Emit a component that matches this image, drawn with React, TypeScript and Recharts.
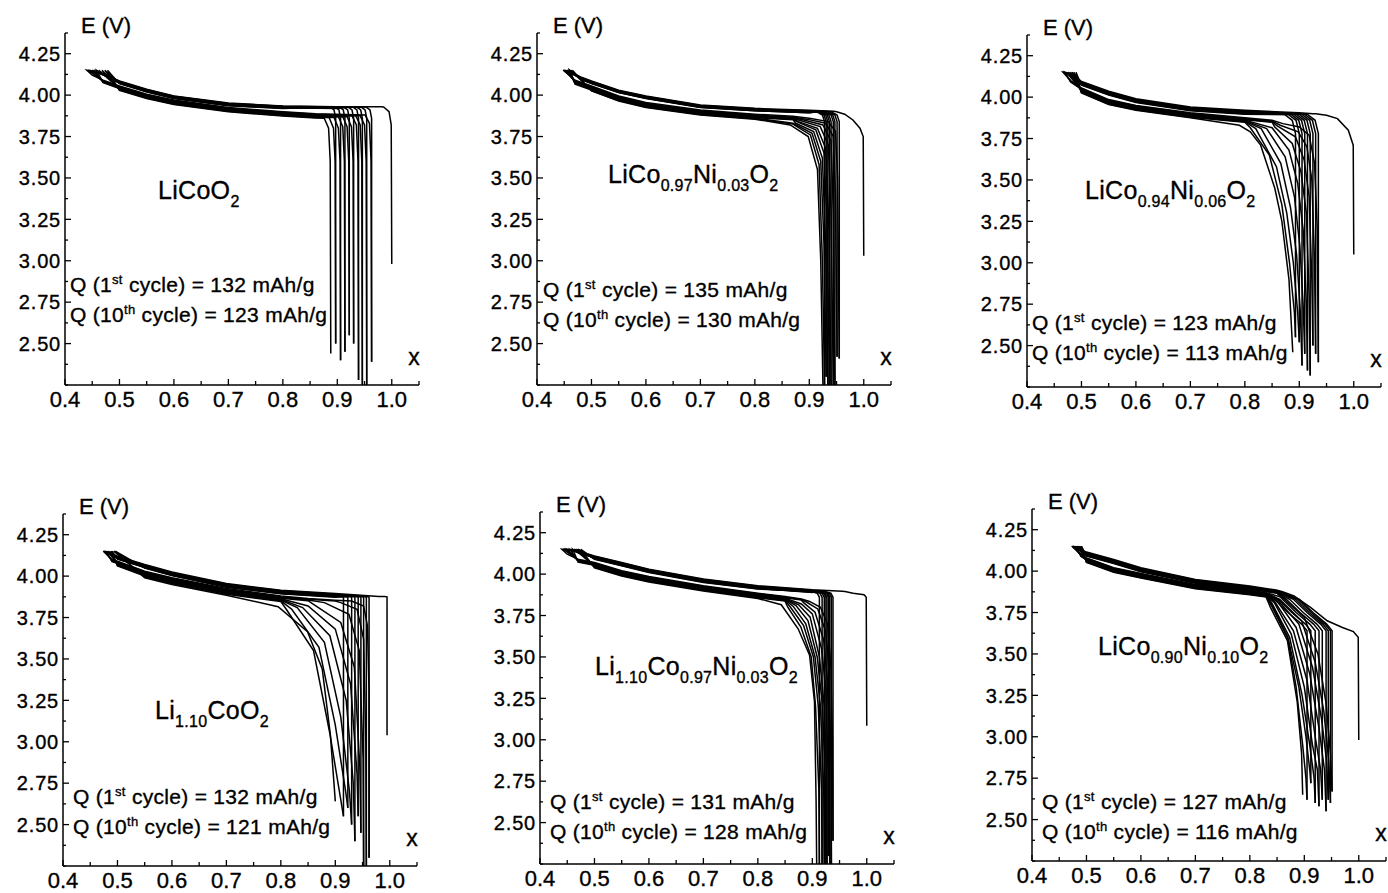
import React from 'react';
import { LineChart, Line, XAxis, YAxis } from 'recharts';

type Pt = [number, number];

// voltage where every charge stops (left end of the loops)
const TOP_E = 4.15;

const xTicks = [0.4, 0.45, 0.5, 0.55, 0.6, 0.65, 0.7, 0.75, 0.8, 0.85, 0.9, 0.95, 1.0, 1.05];
const xLabelled = [0.4, 0.5, 0.6, 0.7, 0.8, 0.9, 1.0];
const eTicks = [2.25, 2.375, 2.5, 2.625, 2.75, 2.875, 3.0, 3.125, 3.25, 3.375, 3.5, 3.625, 3.75, 3.875, 4.0, 4.125, 4.25, 4.375];
const eLabelled = [2.5, 2.75, 3.0, 3.25, 3.5, 3.75, 4.0, 4.25];

const formulas: [string, string][][] = [
  [['LiCoO', '2']],
  [['LiCo', '0.97'], ['Ni', '0.03'], ['O', '2']],
  [['LiCo', '0.94'], ['Ni', '0.06'], ['O', '2']],
  [['Li', '1.10'], ['CoO', '2']],
  [['Li', '1.10'], ['Co', '0.97'], ['Ni', '0.03'], ['O', '2']],
  [['LiCo', '0.90'], ['Ni', '0.10'], ['O', '2']],
];
const qFirst = [132, 135, 123, 132, 131, 127];
const qTenth = [123, 130, 113, 121, 128, 116];

// ---------- panel 1 : LiCoO2 ----------
const p1ChargeBand: Pt[] = [[0.98, 3.93], [0.9, 3.93], [0.8, 3.935], [0.7, 3.952], [0.6, 3.995], [0.55, 4.035], [0.5, 4.085], [0.48, 4.115], [0.465, 4.135]];
const p1ChargeShift = [0, -0.002, -0.004, -0.006, -0.007, -0.009, -0.011, -0.012, -0.014, -0.016];
const p1FirstHead: Pt[] = [[1.0, 2.98], [0.999, 3.82], [0.995, 3.9], [0.985, 3.928]];
const p1HeadRise: Pt[] = [[0, 3.86], [-0.003, 3.91], [-0.01, 3.928]];
const p1TopX = [0.44, 0.442, 0.445, 0.45, 0.453, 0.458, 0.462, 0.468, 0.473, 0.478];
const p1DischargeBand: Pt[] = [[0.45, 4.12], [0.47, 4.09], [0.5, 4.055], [0.55, 4.005], [0.6, 3.97], [0.7, 3.925], [0.8, 3.9], [0.86, 3.888]];
const p1DischargeShift = [0, -0.004, -0.007, -0.01, -0.012, -0.015, -0.017, -0.02, -0.023, -0.026];
const p1Tails: Pt[][] = [
  [[0.951, 3.88], [0.959, 3.83], [0.962, 3.6], [0.963, 2.39]],
  [[0.942, 3.875], [0.95, 3.82], [0.953, 3.6], [0.954, 2.25]],
  [[0.934, 3.875], [0.942, 3.82], [0.945, 3.6], [0.946, 2.25]],
  [[0.927, 3.875], [0.935, 3.82], [0.938, 3.6], [0.939, 2.28]],
  [[0.918, 3.87], [0.926, 3.81], [0.929, 3.6], [0.93, 2.5]],
  [[0.91, 3.87], [0.918, 3.81], [0.921, 3.6], [0.922, 2.55]],
  [[0.902, 3.87], [0.91, 3.81], [0.913, 3.6], [0.914, 2.45]],
  [[0.894, 3.865], [0.902, 3.8], [0.905, 3.6], [0.906, 2.4]],
  [[0.885, 3.865], [0.893, 3.8], [0.896, 3.6], [0.897, 2.5]],
  [[0.876, 3.86], [0.884, 3.8], [0.887, 3.6], [0.888, 2.44]],
];

// ---------- panel 2 : LiCo0.97Ni0.03O2 ----------
const p2ChargeBand: Pt[] = [[0.945, 3.902], [0.9, 3.908], [0.8, 3.92], [0.7, 3.94], [0.6, 3.995], [0.55, 4.03], [0.5, 4.085], [0.48, 4.11], [0.465, 4.135]];
const p2ChargeShift = [0, -0.003, -0.005, -0.006, -0.008, -0.01, -0.011, -0.012, -0.014, -0.015];
const p2FirstHead: Pt[] = [[1.0, 3.03], [0.999, 3.75], [0.993, 3.8], [0.98, 3.85], [0.965, 3.885], [0.95, 3.9]];
const p2HeadRise: Pt[] = [[0, 3.84], [-0.004, 3.88], [-0.015, 3.9]];
const p2TopX = [0.448, 0.45, 0.452, 0.455, 0.455, 0.458, 0.46, 0.46, 0.462, 0.465];
const p2DischargeBand: Pt[] = [[0.45, 4.12], [0.47, 4.09], [0.5, 4.055], [0.55, 3.995], [0.6, 3.955], [0.7, 3.91], [0.8, 3.885], [0.87, 3.872]];
const p2DischargeShift = [0, -0.005, -0.008, -0.012, -0.015, -0.018, -0.02, -0.024, -0.027, -0.03];
const p2Tails: Pt[][] = [
  [[0.9, 3.86], [0.935, 3.84], [0.948, 3.78], [0.952, 3.5], [0.955, 2.41]],
  [[0.895, 3.855], [0.93, 3.83], [0.944, 3.75], [0.948, 3.4], [0.951, 2.42]],
  [[0.89, 3.85], [0.925, 3.82], [0.94, 3.72], [0.944, 3.3], [0.947, 2.25]],
  [[0.885, 3.845], [0.92, 3.81], [0.935, 3.7], [0.94, 3.3], [0.944, 2.25]],
  [[0.88, 3.84], [0.915, 3.8], [0.93, 3.68], [0.936, 3.2], [0.94, 2.25]],
  [[0.88, 3.835], [0.912, 3.79], [0.927, 3.65], [0.933, 3.2], [0.937, 2.25]],
  [[0.875, 3.83], [0.908, 3.78], [0.924, 3.62], [0.93, 3.1], [0.934, 2.25]],
  [[0.87, 3.83], [0.905, 3.77], [0.921, 3.6], [0.927, 3.1], [0.931, 2.3]],
  [[0.87, 3.825], [0.902, 3.76], [0.918, 3.58], [0.924, 3.0], [0.928, 2.25]],
  [[0.865, 3.82], [0.898, 3.75], [0.915, 3.55], [0.921, 3.0], [0.925, 2.25]],
];

// ---------- panel 3 : LiCo0.94Ni0.06O2 ----------
const p3ChargeBand: Pt[] = [[0.925, 3.9], [0.9, 3.905], [0.8, 3.92], [0.7, 3.94], [0.6, 3.99], [0.55, 4.035], [0.5, 4.095], [0.49, 4.12], [0.48, 4.14]];
const p3ChargeShift = [0, -0.004, -0.006, -0.009, -0.011, -0.013, -0.016, -0.018, -0.02, -0.023];
const p3FirstHead: Pt[] = [[1.0, 3.05], [0.999, 3.71], [0.99, 3.8], [0.97, 3.87], [0.95, 3.89], [0.93, 3.9]];
const p3HeadRise: Pt[] = [[0, 3.78], [-0.006, 3.86], [-0.02, 3.895]];
const p3TopX = [0.466, 0.468, 0.47, 0.472, 0.475, 0.478, 0.48, 0.483, 0.486, 0.49];
const p3DischargeBand: Pt[] = [[0.47, 4.12], [0.48, 4.1], [0.5, 4.055], [0.55, 3.985], [0.6, 3.95], [0.7, 3.905], [0.8, 3.875], [0.85, 3.86]];
const p3DischargeShift = [0, -0.004, -0.008, -0.011, -0.014, -0.017, -0.02, -0.023, -0.026, -0.03];
const p3Tails: Pt[][] = [
  [[0.87, 3.84], [0.9, 3.82], [0.918, 3.77], [0.928, 3.6], [0.933, 3.2], [0.935, 2.4]],
  [[0.865, 3.83], [0.898, 3.79], [0.914, 3.7], [0.923, 3.5], [0.928, 3.0], [0.93, 2.45]],
  [[0.86, 3.825], [0.893, 3.76], [0.909, 3.62], [0.918, 3.4], [0.923, 2.9], [0.925, 2.5]],
  [[0.855, 3.82], [0.887, 3.72], [0.903, 3.55], [0.913, 3.3], [0.918, 2.8], [0.92, 2.32]],
  [[0.85, 3.815], [0.881, 3.68], [0.897, 3.48], [0.907, 3.2], [0.913, 2.75], [0.915, 2.35]],
  [[0.84, 3.81], [0.874, 3.64], [0.891, 3.4], [0.901, 3.1], [0.907, 2.75], [0.91, 2.45]],
  [[0.83, 3.81], [0.866, 3.6], [0.884, 3.33], [0.895, 3.05], [0.902, 2.7], [0.905, 2.38]],
  [[0.82, 3.81], [0.858, 3.58], [0.877, 3.3], [0.889, 3.0], [0.897, 2.7], [0.9, 2.52]],
  [[0.81, 3.815], [0.845, 3.65], [0.868, 3.35], [0.882, 3.0], [0.891, 2.7], [0.893, 2.55]],
  [[0.79, 3.83], [0.81, 3.79], [0.829, 3.71], [0.855, 3.45], [0.868, 3.25], [0.881, 2.9], [0.888, 2.46]],
];

// ---------- panel 4 : Li1.10CoO2 ----------
const p4ChargeBand: Pt[] = [[0.98, 3.877], [0.9, 3.895], [0.8, 3.915], [0.7, 3.955], [0.6, 4.025], [0.55, 4.07], [0.5, 4.12], [0.49, 4.135]];
const p4ChargeShift = [0, -0.004, -0.007, -0.009, -0.012, -0.014, -0.016, -0.018, -0.02, -0.022];
const p4FirstHead: Pt[] = [[0.995, 3.04], [0.995, 3.875], [0.99, 3.877]];
const p4HeadRise: Pt[] = [[0, 3.872], [-0.003, 3.877]];
const p4TopX = [0.474, 0.476, 0.478, 0.48, 0.482, 0.485, 0.488, 0.49, 0.493, 0.496];
const p4DischargeBand: Pt[] = [[0.48, 4.13], [0.49, 4.1], [0.5, 4.09], [0.55, 4.03], [0.6, 3.99], [0.7, 3.925], [0.8, 3.88], [0.85, 3.865], [0.9, 3.855]];
const p4DischargeShift = [0, -0.005, -0.009, -0.013, -0.017, -0.021, -0.025, -0.029, -0.034, -0.04];
const p4Tails: Pt[][] = [
  [[0.93, 3.85], [0.952, 3.82], [0.959, 3.7], [0.962, 3.3], [0.962, 2.3]],
  [[0.91, 3.84], [0.94, 3.8], [0.952, 3.62], [0.956, 3.0], [0.957, 2.25]],
  [[0.88, 3.84], [0.925, 3.77], [0.944, 3.55], [0.951, 2.9], [0.952, 2.25]],
  [[0.86, 3.83], [0.91, 3.72], [0.935, 3.45], [0.945, 2.85], [0.947, 2.45]],
  [[0.85, 3.82], [0.9, 3.68], [0.928, 3.35], [0.94, 2.8], [0.942, 2.55]],
  [[0.84, 3.81], [0.89, 3.64], [0.92, 3.25], [0.933, 2.75], [0.936, 2.4]],
  [[0.83, 3.81], [0.88, 3.6], [0.91, 3.15], [0.926, 2.7], [0.93, 2.5]],
  [[0.82, 3.8], [0.87, 3.57], [0.9, 3.1], [0.919, 2.7], [0.923, 2.6]],
  [[0.81, 3.8], [0.86, 3.55], [0.89, 3.05], [0.91, 2.65], [0.915, 2.55]],
  [[0.795, 3.815], [0.849, 3.665], [0.876, 3.44], [0.891, 3.04], [0.9, 2.64]],
];

// ---------- panel 5 : Li1.10Co0.97Ni0.03O2 ----------
const p5ChargeBand: Pt[] = [[0.955, 3.897], [0.9, 3.905], [0.8, 3.93], [0.7, 3.97], [0.6, 4.03], [0.55, 4.07], [0.5, 4.11], [0.47, 4.14]];
const p5ChargeShift = [0, -0.003, -0.006, -0.008, -0.01, -0.012, -0.014, -0.016, -0.018, -0.02];
const p5FirstHead: Pt[] = [[1.0, 3.085], [0.999, 3.86], [0.995, 3.875], [0.975, 3.885], [0.96, 3.895]];
const p5HeadRise: Pt[] = [[0, 3.86], [-0.004, 3.885], [-0.015, 3.895]];
const p5TopX = [0.44, 0.443, 0.447, 0.45, 0.455, 0.46, 0.463, 0.467, 0.47, 0.475];
const p5DischargeBand: Pt[] = [[0.45, 4.12], [0.47, 4.09], [0.5, 4.07], [0.55, 4.02], [0.6, 3.985], [0.7, 3.93], [0.8, 3.885], [0.85, 3.865], [0.88, 3.85]];
const p5DischargeShift = [0, -0.004, -0.007, -0.01, -0.014, -0.017, -0.021, -0.025, -0.028, -0.032];
const p5Tails: Pt[][] = [
  [[0.895, 3.835], [0.915, 3.8], [0.928, 3.7], [0.934, 3.45], [0.937, 3.0], [0.938, 2.39]],
  [[0.89, 3.83], [0.91, 3.79], [0.925, 3.65], [0.931, 3.4], [0.934, 2.9], [0.935, 2.25]],
  [[0.885, 3.825], [0.905, 3.77], [0.921, 3.6], [0.928, 3.35], [0.931, 2.9], [0.932, 2.25]],
  [[0.88, 3.82], [0.9, 3.76], [0.917, 3.55], [0.925, 3.3], [0.929, 2.8], [0.93, 2.3]],
  [[0.875, 3.815], [0.896, 3.74], [0.913, 3.5], [0.922, 3.2], [0.926, 2.8], [0.927, 2.25]],
  [[0.87, 3.81], [0.892, 3.72], [0.909, 3.5], [0.919, 3.2], [0.924, 2.7], [0.925, 2.25]],
  [[0.865, 3.805], [0.888, 3.7], [0.905, 3.5], [0.915, 3.2], [0.921, 2.7], [0.922, 2.25]],
  [[0.86, 3.8], [0.884, 3.69], [0.902, 3.5], [0.911, 3.2], [0.917, 2.7], [0.918, 2.25]],
  [[0.855, 3.8], [0.879, 3.68], [0.898, 3.5], [0.906, 3.2], [0.912, 2.7], [0.913, 2.25]],
  [[0.843, 3.815], [0.874, 3.67], [0.895, 3.51], [0.904, 3.23], [0.907, 2.62], [0.908, 2.25]],
];

// ---------- panel 6 : LiCo0.90Ni0.10O2 ----------
const p6ChargeBand: Pt[] = [[0.85, 3.885], [0.8, 3.91], [0.7, 3.95], [0.6, 4.02], [0.55, 4.07], [0.5, 4.115], [0.49, 4.13]];
const p6ChargeShift = [0, -0.004, -0.006, -0.009, -0.012, -0.014, -0.016, -0.019, -0.021, -0.024];
const p6FirstHead: Pt[] = [[1.0, 2.98], [0.999, 3.6], [0.99, 3.635], [0.97, 3.66], [0.942, 3.7], [0.912, 3.78], [0.881, 3.85], [0.86, 3.875]];
const p6HeadRise: Pt[] = [[0, 3.64], [-0.01, 3.68], [-0.035, 3.75], [-0.06, 3.83]];
const p6TopX = [0.473, 0.475, 0.477, 0.479, 0.481, 0.483, 0.485, 0.487, 0.489, 0.491];
const p6DischargeBand: Pt[] = [[0.48, 4.12], [0.49, 4.1], [0.5, 4.08], [0.55, 4.02], [0.6, 3.985], [0.7, 3.92], [0.8, 3.885], [0.83, 3.87]];
const p6DischargeShift = [0, -0.003, -0.006, -0.009, -0.012, -0.015, -0.018, -0.021, -0.024, -0.027];
const p6Tails: Pt[][] = [
  [[0.86, 3.84], [0.9, 3.72], [0.925, 3.5], [0.94, 3.2], [0.948, 2.9], [0.951, 2.67]],
  [[0.855, 3.83], [0.895, 3.7], [0.92, 3.45], [0.936, 3.15], [0.945, 2.85], [0.948, 2.6]],
  [[0.85, 3.83], [0.89, 3.68], [0.915, 3.42], [0.932, 3.1], [0.941, 2.85], [0.944, 2.62]],
  [[0.85, 3.82], [0.885, 3.66], [0.91, 3.38], [0.927, 3.05], [0.937, 2.8], [0.94, 2.55]],
  [[0.845, 3.82], [0.88, 3.64], [0.905, 3.34], [0.92, 3.0], [0.93, 2.8], [0.933, 2.62]],
  [[0.845, 3.81], [0.876, 3.62], [0.9, 3.3], [0.915, 2.95], [0.924, 2.8], [0.927, 2.58]],
  [[0.84, 3.81], [0.873, 3.6], [0.896, 3.25], [0.91, 2.95], [0.918, 2.75], [0.92, 2.6]],
  [[0.84, 3.8], [0.87, 3.6], [0.89, 3.3], [0.903, 3.0], [0.91, 2.8], [0.912, 2.72]],
  [[0.84, 3.79], [0.87, 3.59], [0.885, 3.3], [0.897, 2.95], [0.903, 2.75], [0.905, 2.62]],
  [[0.838, 3.78], [0.869, 3.58], [0.887, 3.21], [0.895, 2.9], [0.897, 2.65]],
];

interface PanelData {
  chargeBand: Pt[];
  chargeShift: number[];
  firstHead: Pt[];
  headRise: Pt[];
  topX: number[];
  dischargeBand: Pt[];
  dischargeShift: number[];
  tails: Pt[][];
}

const panelData: PanelData[] = [
  { chargeBand: p1ChargeBand, chargeShift: p1ChargeShift, firstHead: p1FirstHead, headRise: p1HeadRise, topX: p1TopX, dischargeBand: p1DischargeBand, dischargeShift: p1DischargeShift, tails: p1Tails },
  { chargeBand: p2ChargeBand, chargeShift: p2ChargeShift, firstHead: p2FirstHead, headRise: p2HeadRise, topX: p2TopX, dischargeBand: p2DischargeBand, dischargeShift: p2DischargeShift, tails: p2Tails },
  { chargeBand: p3ChargeBand, chargeShift: p3ChargeShift, firstHead: p3FirstHead, headRise: p3HeadRise, topX: p3TopX, dischargeBand: p3DischargeBand, dischargeShift: p3DischargeShift, tails: p3Tails },
  { chargeBand: p4ChargeBand, chargeShift: p4ChargeShift, firstHead: p4FirstHead, headRise: p4HeadRise, topX: p4TopX, dischargeBand: p4DischargeBand, dischargeShift: p4DischargeShift, tails: p4Tails },
  { chargeBand: p5ChargeBand, chargeShift: p5ChargeShift, firstHead: p5FirstHead, headRise: p5HeadRise, topX: p5TopX, dischargeBand: p5DischargeBand, dischargeShift: p5DischargeShift, tails: p5Tails },
  { chargeBand: p6ChargeBand, chargeShift: p6ChargeShift, firstHead: p6FirstHead, headRise: p6HeadRise, topX: p6TopX, dischargeBand: p6DischargeBand, dischargeShift: p6DischargeShift, tails: p6Tails },
];

// page layout: where each panel's axes cross, and where its notes sit
const layout = [
  { axisX: 65, axisY: 385, fx: 93, fy: -195, qx: 5, qy: -100 },
  { axisX: 537, axisY: 385, fx: 71, fy: -211, qx: 6, qy: -95 },
  { axisX: 1027, axisY: 387, fx: 58, fy: -197, qx: 5, qy: -64 },
  { axisX: 63, axisY: 866, fx: 92, fy: -156, qx: 10, qy: -69 },
  { axisX: 540, axisY: 864, fx: 55, fy: -198, qx: 10, qy: -62 },
  { axisX: 1032, axisY: 861, fx: 66, fy: -215, qx: 10, qy: -59 },
];

const PLOT_W = 354;
const PLOT_H = 352;
const FONT = '"Liberation Sans", Arial, sans-serif';
const INK = 0.35; // scanned text looks a touch heavier than regular weight

// one cycle = charge (right to left, upper branch) then discharge (left to right, lower branch)
function buildCycles(d: PanelData) {
  return d.tails.map((tail, k) => {
    const pts: Pt[] = [];
    let head: Pt[];
    if (k === 0) {
      head = d.firstHead;
    } else {
      const prev = d.tails[k - 1];
      const [xs, es] = prev[prev.length - 1];
      head = [[xs, es], ...d.headRise.map(([dx, e]) => [xs + dx, e] as Pt)];
    }
    pts.push(...head);
    const hx = head[head.length - 1][0];
    const top = d.topX[k];
    d.chargeBand.forEach(([x, e]) => {
      if (x < hx - 0.004 && x > top + 0.008) pts.push([x, e + d.chargeShift[k]]);
    });
    pts.push([top, TOP_E]);
    const tx = tail[0][0];
    d.dischargeBand.forEach(([x, e]) => {
      if (x > top + 0.008 && x < tx - 0.004) pts.push([x, e + d.dischargeShift[k]]);
    });
    pts.push(...tail);
    return pts.map(([x, y]) => ({ x, y }));
  });
}

const isIn = (list: number[], v: number) => list.some((t) => Math.abs(t - v) < 1e-6);

function YTick(props: any) {
  const { x, y, payload } = props;
  const v = payload.value as number;
  const major = isIn(eLabelled, v);
  return (
    <g>
      <line x1={x} x2={x + (major ? 6 : 3)} y1={y} y2={y} stroke="#000" strokeWidth={1.3} />
      {major && (
        <text x={x - 4} y={y} dy="0.36em" textAnchor="end" fontSize={20} letterSpacing={0.8} fill="#000" stroke="#000" strokeWidth={INK} fontFamily={FONT}>
          {v.toFixed(2)}
        </text>
      )}
    </g>
  );
}

function XTick(props: any) {
  const { x, y, payload } = props;
  const v = payload.value as number;
  const major = isIn(xLabelled, v);
  return (
    <g>
      <line x1={x} x2={x} y1={y} y2={y - (major ? 6 : 4)} stroke="#000" strokeWidth={1.3} />
      {major && (
        <text x={x} y={y + 22} textAnchor="middle" fontSize={22} fill="#000" stroke="#000" strokeWidth={INK} fontFamily={FONT}>
          {v.toFixed(1)}
        </text>
      )}
    </g>
  );
}

function Panel({ idx }: { idx: number }) {
  const { axisX, axisY } = layout[idx];
  const cycles = buildCycles(panelData[idx]);
  return (
    <div style={{ position: 'absolute', left: axisX - 60, top: axisY - PLOT_H - 10 }}>
      <LineChart width={60 + PLOT_W + 8} height={10 + PLOT_H + 34} margin={{ top: 10, right: 8, bottom: 0, left: 0 }}>
        <XAxis
          type="number"
          dataKey="x"
          domain={[0.4, 1.05]}
          ticks={xTicks}
          interval={0}
          allowDataOverflow
          height={34}
          tickSize={0}
          tickMargin={0}
          tickLine={false}
          axisLine={{ stroke: '#000', strokeWidth: 1.5 }}
          tick={XTick}
        />
        <YAxis
          type="number"
          domain={[2.25, 4.375]}
          ticks={eTicks}
          interval={0}
          allowDataOverflow
          width={60}
          tickSize={0}
          tickMargin={0}
          tickLine={false}
          axisLine={{ stroke: '#000', strokeWidth: 1.5 }}
          tick={YTick}
        />
        {cycles.map((pts, i) => (
          <Line
            key={i}
            data={pts}
            dataKey="y"
            type="linear"
            stroke="#000"
            strokeWidth={1.5}
            dot={false}
            isAnimationActive={false}
          />
        ))}
      </LineChart>
    </div>
  );
}

function Formula({ x, y, parts }: { x: number; y: number; parts: [string, string][] }) {
  return (
    <text x={x} y={y} fontSize={25} letterSpacing={0.3} fill="#000" stroke="#000" strokeWidth={INK}>
      {parts.map(([main, sub], i) => (
        <React.Fragment key={i}>
          <tspan dy={i === 0 ? 0 : -8}>{main}</tspan>
          <tspan dy={8} fontSize={16}>{sub}</tspan>
        </React.Fragment>
      ))}
    </text>
  );
}

function Notes({ idx }: { idx: number }) {
  const { axisX, axisY, fx, fy, qx, qy } = layout[idx];
  const top = axisY - PLOT_H;
  return (
    <g fontFamily={FONT} fill="#000" stroke="#000" strokeWidth={INK}>
      <text x={axisX + 16} y={top} fontSize={22}>E (V)</text>
      <text x={axisX + 349} y={axisY - 20} fontSize={23} textAnchor="middle">x</text>
      <Formula x={axisX + fx} y={axisY + fy + 9} parts={formulas[idx]} />
      <text x={axisX + qx} y={axisY + qy + 7} fontSize={21} letterSpacing={0.3}>
        Q (1<tspan dy={-8} fontSize={13}>st</tspan>
        <tspan dy={8}>{` cycle) = ${qFirst[idx]} mAh/g`}</tspan>
      </text>
      <text x={axisX + qx} y={axisY + qy + 37} fontSize={21} letterSpacing={0.3}>
        Q (10<tspan dy={-8} fontSize={13}>th</tspan>
        <tspan dy={8}>{` cycle) = ${qTenth[idx]} mAh/g`}</tspan>
      </text>
    </g>
  );
}

export default function App() {
  const ids = [0, 1, 2, 3, 4, 5];
  return (
    <div
      style={{
        position: 'absolute',
        left: 0,
        top: 0,
        width: 1388,
        height: 893,
        overflow: 'hidden',
        background: '#fff',
        fontFamily: FONT,
      }}
    >
      {ids.map((i) => (
        <Panel key={i} idx={i} />
      ))}
      <svg width={1388} height={893} style={{ position: 'absolute', left: 0, top: 0, pointerEvents: 'none' }}>
        {ids.map((i) => (
          <Notes key={i} idx={i} />
        ))}
      </svg>
    </div>
  );
}
